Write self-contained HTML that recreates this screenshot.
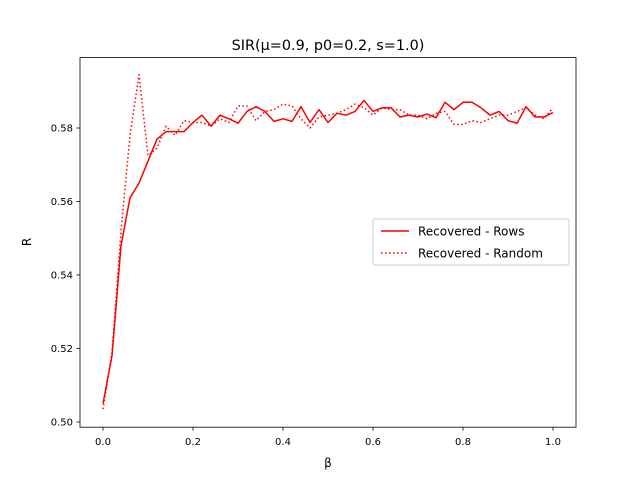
<!DOCTYPE html>
<html><head><meta charset="utf-8"><style>body{margin:0;background:#fff}svg{display:block;font-family:"DejaVu Sans","Liberation Sans",sans-serif}</style></head>
<body>
<svg id="chart" width="640" height="480">
<rect width="640" height="480" fill="#fff"/>
<text x="328" y="50" font-size="14.4" text-anchor="middle">SIR(μ=0.9, p0=0.2, s=1.0)</text>
<g id="axes"></g>
<g id="series"></g>
<rect x="80" y="57.6" width="496" height="369.6" fill="none" stroke="#000" stroke-width="0.8"/>
<text x="328" y="467" font-size="12" text-anchor="middle">β</text>
<text x="31" y="242" font-size="12" text-anchor="middle" transform="rotate(-90 31 242)">R</text>
<g>
<rect x="373" y="219" width="196" height="46" fill="#fff" stroke="#ccc" rx="2"/>
<line x1="381" y1="231" x2="409" y2="231" stroke="red" stroke-width="1.5"/>
<text x="418" y="235.5" font-size="12">Recovered - Rows</text>
<line x1="381" y1="253" x2="409" y2="253" stroke="red" stroke-width="1.5" stroke-dasharray="1.5,2.5"/>
<text x="418" y="257.5" font-size="12">Recovered - Random</text>
</g>
</svg>
<script>
const rowsValues=[0.505,0.518,0.548,0.561,0.565,0.571,0.577,0.579,0.579,0.579,0.5815,0.5835,0.5805,0.5835,0.5825,0.5813,0.5845,0.5858,0.5845,0.5818,0.5825,0.5818,0.5858,0.5815,0.585,0.5815,0.584,0.5835,0.5845,0.5875,0.5845,0.5855,0.5855,0.583,0.5835,0.583,0.5838,0.5828,0.587,0.585,0.587,0.587,0.5855,0.5835,0.5845,0.582,0.5813,0.5858,0.583,0.583,0.5842];
const randomValues=[0.5035,0.519,0.552,0.578,0.5945,0.5725,0.5745,0.5805,0.578,0.582,0.5815,0.5815,0.5805,0.5825,0.5815,0.586,0.586,0.582,0.5845,0.585,0.5865,0.586,0.5825,0.58,0.583,0.5835,0.584,0.585,0.5865,0.5855,0.5835,0.5855,0.585,0.585,0.5835,0.5835,0.5825,0.584,0.5845,0.581,0.581,0.582,0.5815,0.5825,0.5835,0.5835,0.5845,0.5855,0.5835,0.5825,0.5855];
const betaStep=0.02;
const xTicks=[0,0.2,0.4,0.6,0.8,1.0];
const xTickLabels=["0.0","0.2","0.4","0.6","0.8","1.0"];
const yTicks=[0.50,0.52,0.54,0.56,0.58];
const yTickLabels=["0.50","0.52","0.54","0.56","0.58"];
const X=v=>103+(v)*450;
const Y=v=>422-(v-0.5)*3675;
const NS="http://www.w3.org/2000/svg";
const axes=document.getElementById('axes'),ser=document.getElementById('series');
function mk(t,a,p){const e=document.createElementNS(NS,t);for(const k in a)e.setAttribute(k,a[k]);p.appendChild(e);return e;}
xTicks.forEach((v,i)=>{
 const l=mk('line',{x1:X(v),x2:X(v),y1:427.2,y2:430.7,stroke:'#000','stroke-width':0.8},axes);
 
 
 const t=mk('text',{x:X(v),y:445,'font-size':10,'text-anchor':'middle'},axes);t.textContent=xTickLabels[i];
 
 
});
yTicks.forEach((v,i)=>{
 const l=mk('line',{x1:76.5,x2:80,y1:Y(v),y2:Y(v),stroke:'#000','stroke-width':0.8},axes);
 
 
 const t=mk('text',{x:73,y:Y(v)+3.5,'font-size':10,'text-anchor':'end'},axes);t.textContent=yTickLabels[i];
 
 
});
function line(vals,dash,name){
 const pts=vals.map((v,i)=>X(i*betaStep).toFixed(2)+','+Y(v).toFixed(2)).join(' ');
 const a={points:pts,fill:'none',stroke:'red','stroke-width':1.5,'stroke-linejoin':'round'};
 if(dash)a['stroke-dasharray']='1.5,2.5';
 const p=mk('polyline',a,ser);
 
 
}
line(rowsValues,false,'rows-line');
line(randomValues,true,'random-line');
</script>
</body></html>
